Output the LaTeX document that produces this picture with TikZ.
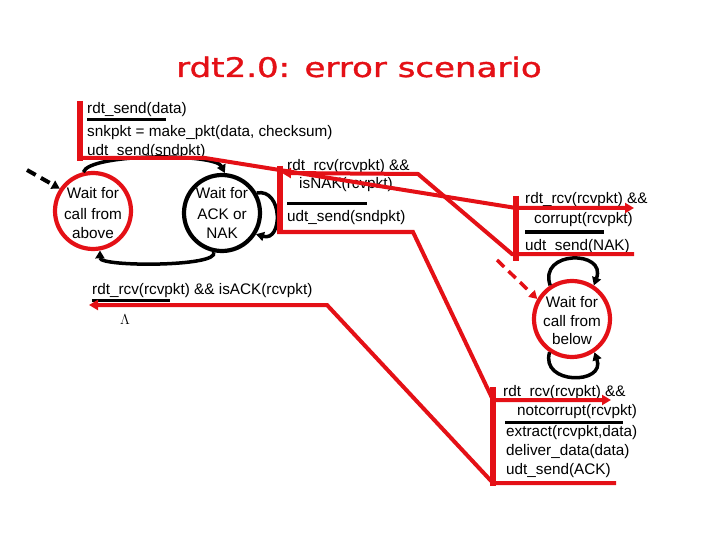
\documentclass[tikz,border=0pt]{standalone}
\usepackage{fontspec}
\usepackage{graphicx}
\setmainfont{Liberation Sans}
\newfontfamily\titlefont[FakeBold=1.2]{DejaVu Sans}
\usetikzlibrary{arrows.meta}
\definecolor{lred}{RGB}{228,16,22}
\begin{document}
\begin{tikzpicture}[x=1pt,y=-1pt,
  txt/.style={anchor=base west, inner sep=0pt, font=\fontsize{15.3}{18}\selectfont},
  ctxt/.style={anchor=base, inner sep=0pt, font=\fontsize{15.3}{18}\selectfont},
  circ/.style={circle, minimum size=76pt, inner sep=0pt, line width=4.2pt},
  rline/.style={draw=lred, line width=4pt},
  rbar/.style={draw=lred, line width=6.5pt},
  uline/.style={draw=black, line width=3pt},
  barc/.style={draw=black, line width=3.5pt},
  rtip/.style={-{Triangle[length=9pt,width=10pt]}},
  btip/.style={-{Triangle[length=8pt,width=9pt]}},
  ttl/.style={anchor=base, inner sep=0pt, text=lred, font=\titlefont\fontsize{27}{30}\selectfont}
]
\useasboundingbox (0,0) rectangle (720,540);

% title
\node[ttl] (title) at (359,77) {\scalebox{1.26}[1]{rdt2.0: error scenario}};

% states
\node[circ, draw=lred] (s1) at (93,211) {};
\node[circ, draw=black] (s2) at (222,213) {};
\node[circ, draw=lred] (r1) at (572,319) {};

\node[ctxt] (s1a) at (93,199) {Wait for};
\node[ctxt] (s1b) at (93,219) {call from};
\node[ctxt] (s1c) at (93,238) {above};
\node[ctxt] (s2a) at (222,199) {Wait for};
\node[ctxt] (s2b) at (222,219) {ACK or};
\node[ctxt] (s2c) at (222,238) {NAK};
\node[ctxt] (r1a) at (572,307) {Wait for};
\node[ctxt] (r1b) at (572,326) {call from};
\node[ctxt] (r1c) at (572,344) {below};

% labels
\node[txt] (l1) at (87,114) {rdt\_send(data)};
\node[txt] (l2) at (87,137) {snkpkt = make\_pkt(data, checksum)};
\node[txt] (l3) at (87,156) {udt\_send(sndpkt)};
\node[txt] (n1) at (287,171) {rdt\_rcv(rcvpkt) \&\&};
\node[txt] (n2) at (299,189) {isNAK(rcvpkt)};
\node[txt] (n3) at (287,222) {udt\_send(sndpkt)};
\node[txt] (a1) at (92,294) {rdt\_rcv(rcvpkt) \&\& isACK(rcvpkt)};
\node[anchor=base west, inner sep=0pt, font=\fontsize{14}{16}\selectfont] (lam) at (120,324) {$\Lambda$};
\node[txt] (c1) at (525,204) {rdt\_rcv(rcvpkt) \&\&};
\node[txt] (c2) at (534,224) {corrupt(rcvpkt)};
\node[txt] (c3) at (525,251) {udt\_send(NAK)};
\node[txt] (k1) at (503,396) {rdt\_rcv(rcvpkt) \&\&};
\node[txt] (k2) at (517,415) {notcorrupt(rcvpkt)};
\node[txt] (k3) at (506,436) {extract(rcvpkt,data)};
\node[txt] (k4) at (506,455) {deliver\_data(data)};
\node[txt] (k5) at (506,474) {udt\_send(ACK)};

% black separators
\draw[uline] (87,120) -- (166,120);
\draw[uline] (287,204) -- (367,204);
\draw[uline] (92,300) -- (170,300);
\draw[uline] (525,232) -- (604,232);
\draw[uline] (505,422) -- (623,422);

% sender transitions
\draw[barc, btip] (s1.104) .. controls (90,153) and (215,153) .. (s2.86);
\draw[barc, btip] (s2.258) .. controls (220,267) and (100,267) .. (s1.280);
\draw[barc, btip] (s2.30) .. controls (283,188) and (283,242) .. (s2.-32);
\coordinate (d0) at (27,170);
\draw[line width=4pt, dash pattern=on 10pt off 6pt, btip] (d0) -- (s1.146);

% receiver loops
\draw[barc, btip] (r1.123) .. controls (538,250) and (607,250) .. (r1.57);
\draw[barc, btip] (r1.236) .. controls (540,385) and (606,385) .. (r1.304);
\coordinate (d1) at (497,260);
\draw[draw=lred, line width=3.5pt, dash pattern=on 10pt off 6pt, btip] (d1) -- (r1.150);

% bars
\coordinate (b1t) at (80,101);  \coordinate (b1b) at (80,161);
\coordinate (b2t) at (280,166); \coordinate (b2b) at (280,233);
\coordinate (b3t) at (516,196); \coordinate (b3b) at (516,261);
\coordinate (b4t) at (493,387); \coordinate (b4b) at (493,486);
\draw[rbar] (b1t) -- (b1b);
\draw[rbar] (b2t) -- (b2b);
\draw[rbar] (b3t) -- (b3b);
\draw[rbar] (b4t) -- (b4b);

% red message paths
\draw[rline, rtip] (77,158) -- (205,158) -- (516,208) -- (634,208);
\draw[rline, rtip] (634,254) -- (512,254) -- (418,174) -- (282,173);
\draw[rline, rtip] (277,232) -- (413,232) -- (493,400) -- (611,400);
\draw[rline, rtip] (616,483) -- (493,483) -- (327,305) -- (89,305);
\end{tikzpicture}
\end{document}
